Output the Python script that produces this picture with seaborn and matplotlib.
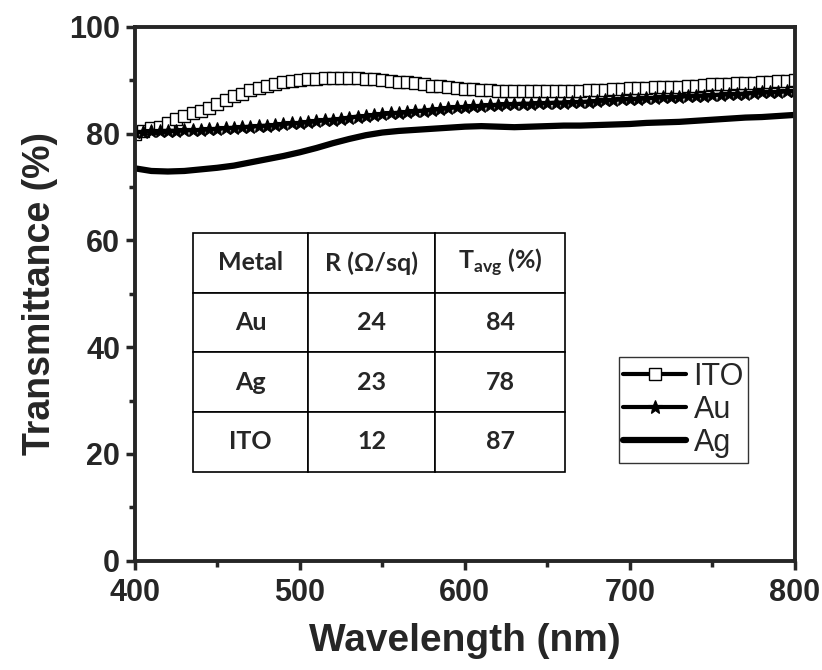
import numpy as np
import pandas as pd
import seaborn as sns
import matplotlib.pyplot as plt

# wavelengths (nm) sampled every 5 nm for the marker series
wl_5 = list(range(400, 801, 5))

ito_t = [80.0, 80.5, 81.0, 81.3, 82.0, 82.8, 83.3, 83.8, 84.3, 84.8,
         85.5, 86.3, 87.0, 87.5, 88.2, 88.6, 89.0, 89.3, 89.6, 89.9,
         90.1, 90.2, 90.3, 90.4, 90.5, 90.5, 90.5, 90.4, 90.3, 90.2,
         90.1, 89.9, 89.7, 89.6, 89.4, 89.2, 89.0, 88.9, 88.7, 88.6,
         88.4, 88.3, 88.2, 88.1, 88.0, 88.0, 88.0, 87.9, 87.9, 87.9,
         88.0, 88.0, 88.0, 88.0, 88.0, 88.1, 88.1, 88.2, 88.3, 88.4,
         88.5, 88.6, 88.6, 88.7, 88.7, 88.8, 88.8, 88.9, 89.0, 89.1,
         89.2, 89.3, 89.3, 89.4, 89.5, 89.5, 89.6, 89.7, 89.8, 89.9,
         90.0]

au_t = [80.3, 80.3, 80.4, 80.4, 80.5, 80.5, 80.6, 80.6, 80.7, 80.8,
        80.9, 81.0, 81.1, 81.2, 81.3, 81.4, 81.5, 81.6, 81.8, 81.9,
        82.0, 82.2, 82.3, 82.5, 82.6, 82.8, 83.0, 83.2, 83.3, 83.5,
        83.6, 83.8, 83.9, 84.0, 84.2, 84.3, 84.5, 84.6, 84.8, 84.9,
        85.0, 85.1, 85.2, 85.3, 85.4, 85.5, 85.5, 85.6, 85.6, 85.7,
        85.7, 85.8, 85.8, 85.9, 85.9, 86.0, 86.1, 86.2, 86.3, 86.4,
        86.5, 86.5, 86.6, 86.7, 86.8, 86.8, 86.9, 87.0, 87.1, 87.1,
        87.2, 87.3, 87.4, 87.4, 87.5, 87.6, 87.7, 87.7, 87.8, 87.9,
        88.0]

# Ag is a plain line, every 10 nm is enough
wl_10 = list(range(400, 801, 10))
ag_t = [73.5, 73.0, 72.9, 73.0, 73.3, 73.6, 74.0, 74.6, 75.2, 75.8,
        76.5, 77.3, 78.2, 79.0, 79.7, 80.2, 80.5, 80.7, 80.9, 81.1,
        81.3, 81.4, 81.3, 81.2, 81.3, 81.4, 81.5, 81.5, 81.6, 81.7,
        81.8, 82.0, 82.1, 82.2, 82.4, 82.6, 82.8, 83.0, 83.1, 83.3,
        83.5]

# inset table
table_cols = ["Metal", "R (\u03a9/sq)", r"T$_{\mathregular{avg}}$ (%)"]
table_metals = ["Au", "Ag", "ITO"]
table_r = ["24", "23", "12"]
table_tavg = ["84", "78", "87"]

sns.set_style("ticks")
plt.rcParams["font.family"] = ["Liberation Sans", "DejaVu Sans"]

fig = plt.figure(figsize=(8.22, 6.70), dpi=100)
ax = fig.add_axes([0.164, 0.163, 0.803, 0.797])

sns.lineplot(x=wl_5, y=ito_t, ax=ax, color="black", lw=3, marker="s",
             markersize=8.5, markerfacecolor="white", markeredgecolor="black",
             markeredgewidth=1.0, label="ITO")
sns.lineplot(x=wl_5, y=au_t, ax=ax, color="black", lw=3, marker="*",
             markersize=10, markeredgecolor="black", markeredgewidth=0.8,
             label="Au")
sns.lineplot(x=wl_10, y=ag_t, ax=ax, color="black", lw=4.5, label="Ag")

ax.set_xlim(400, 800)
ax.set_ylim(0, 100)
ax.set_xticks([400, 500, 600, 700, 800])
ax.set_xticks([450, 550, 650, 750], minor=True)
ax.set_yticks([0, 20, 40, 60, 80, 100])
ax.set_yticks([10, 30, 50, 70, 90], minor=True)
ax.tick_params(which="major", direction="out", length=6.5, width=2.5,
               labelsize=22)
ax.tick_params(which="minor", direction="out", length=4, width=2.5)
ax.tick_params(axis="x", which="major", pad=6)
ax.tick_params(axis="y", which="major", pad=4)
for lab in ax.get_xticklabels() + ax.get_yticklabels():
    lab.set_fontweight("bold")
for sp in ax.spines.values():
    sp.set_linewidth(2.8)
    sp.set_visible(True)

ax.set_xlabel("Wavelength (nm)", fontsize=28, fontweight="bold", labelpad=11)
ax.set_ylabel("Transmittance (%)", fontsize=27, fontweight="bold", labelpad=8)

leg = ax.legend(loc="lower left", bbox_to_anchor=(0.733, 0.184), fontsize=22,
                frameon=True, fancybox=False, edgecolor="black",
                handlelength=2.05, handletextpad=0.25, labelspacing=0.1,
                borderpad=0.15, borderaxespad=0)
leg.get_frame().set_linewidth(1.0)

cells = [[m, r, t] for m, r, t in zip(table_metals, table_r, table_tavg)]
tbl = ax.table(cellText=cells, colLabels=table_cols, cellLoc="center",
               colWidths=[115, 127, 130],
               bbox=[0.088, 0.167, 0.564, 0.447])
tbl.auto_set_font_size(False)
for (row, col), cell in tbl.get_celld().items():
    cell.set_edgecolor("black")
    cell.set_linewidth(1.2)
    cell.get_text().set_fontsize(18)
    cell.get_text().set_fontfamily(["Lato", "DejaVu Sans"])
    cell.get_text().set_fontweight("bold")

fig.savefig("out.png", dpi=100)
